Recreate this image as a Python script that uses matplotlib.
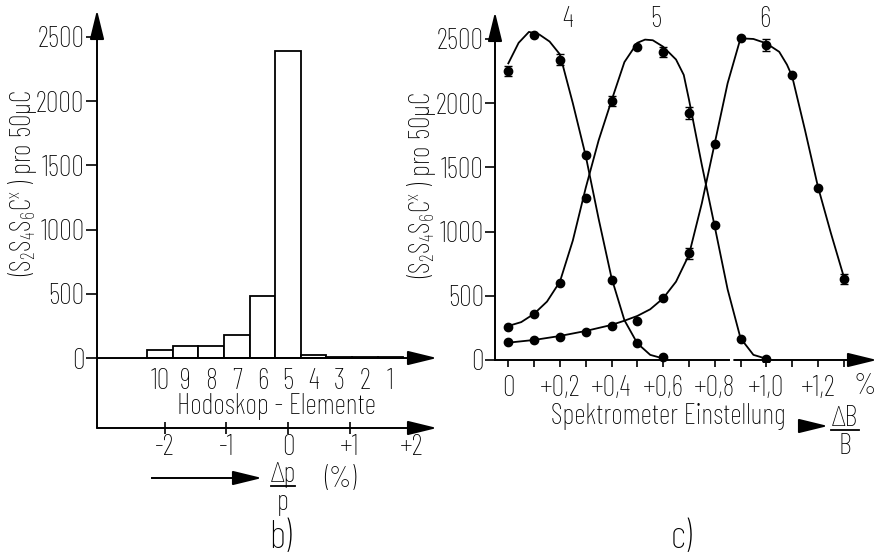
import numpy as np
import matplotlib
matplotlib.use('Agg')
from matplotlib import pyplot as plt

plt.rcParams['font.family'] = ['Barlow Condensed', 'DejaVu Sans']
plt.rcParams['font.weight'] = 'light'
plt.rcParams['mathtext.fontset'] = 'custom'
plt.rcParams['mathtext.rm'] = 'Barlow Condensed:light'
plt.rcParams['mathtext.it'] = 'Barlow Condensed:light'
plt.rcParams['mathtext.default'] = 'regular'
plt.rcParams['font.size'] = 20.5

# --- b) Hodoskop ---
elements = ['10', '9', '8', '7', '6', '5', '4', '3', '2', '1']
counts = [65, 90, 90, 180, 485, 2390, 20, 8, 8, 6]
dp_ticks = [-2, -1, 0, 1, 2]
dp_labels = ['-2', '-1', '0', '+1', '+2']
y_ticks = [0, 500, 1000, 1500, 2000, 2500]

# --- c) Spektrometer, measured points ---
pts4_x = [0, 0.1, 0.2, 0.3, 0.4, 0.5, 0.6]
pts4_y = [2250, 2530, 2340, 1600, 625, 130, 20]
err4 = [40, 0, 45, 0, 0, 0, 0]
pts5_x = [0, 0.1, 0.2, 0.3, 0.4, 0.5, 0.6, 0.7, 0.8, 0.9, 1.0]
pts5_y = [260, 355, 600, 1265, 2015, 2435, 2400, 1925, 1050, 165, 8]
err5 = [0, 0, 0, 0, 40, 0, 40, 45, 0, 0, 0]
pts6_x = [0, 0.1, 0.2, 0.3, 0.4, 0.5, 0.6, 0.7, 0.8, 0.9, 1.0, 1.1, 1.2, 1.3]
pts6_y = [138, 155, 182, 215, 267, 300, 485, 830, 1685, 2510, 2455, 2220, 1340, 630]
err6 = [0, 0, 0, 0, 0, 0, 0, 45, 0, 0, 45, 0, 0, 40]

# hand drawn curves
fit4_x = [0, 0.04, 0.08, 0.12, 0.16, 0.2, 0.25, 0.3, 0.35, 0.4, 0.45, 0.5, 0.55, 0.6]
fit4_y = [2310, 2470, 2555, 2535, 2480, 2380, 2000, 1590, 1100, 640, 310, 130, 40, 12]
fit5_x = [0, 0.05, 0.1, 0.15, 0.2, 0.25, 0.3, 0.35, 0.4, 0.45, 0.5, 0.53, 0.56,
          0.6, 0.65, 0.68, 0.7, 0.75, 0.8, 0.85, 0.9, 0.95, 1.0]
fit5_y = [265, 295, 360, 455, 610, 930, 1340, 1710, 2020, 2320, 2470, 2495, 2490,
          2440, 2340, 2220, 2030, 1520, 1040, 550, 170, 40, 10]
fit6_x = [0, 0.1, 0.2, 0.3, 0.4, 0.45, 0.5, 0.55, 0.6, 0.65, 0.7, 0.75, 0.8, 0.85,
          0.9, 0.95, 1.0, 1.05, 1.08, 1.1, 1.15, 1.2, 1.25, 1.3]
fit6_y = [135, 156, 187, 226, 273, 306, 343, 395, 480, 610, 818, 1220, 1687, 2155,
          2505, 2500, 2466, 2400, 2300, 2210, 1790, 1350, 990, 650]
curve_names = ['4', '5', '6']
curve_label_x = [0.23, 0.57, 0.995]
spek_ticks = [0, 0.2, 0.4, 0.6, 0.8, 1.0, 1.2]
spek_labels = ['0', '+0,2', '+0,4', '+0,6', '+0,8', '+1,0', '+1,2']

W, H = 887, 556
fig = plt.figure(figsize=(W / 100, H / 100), dpi=100)

def box(l, r, t, b):
    return [l / W, (H - b) / H, (r - l) / W, (b - t) / H]

def fpos(x, y):
    # pixel (from top left) -> figure fraction
    return x / W, 1 - y / H

def frac(x, y, top, bottom, half):
    fig.text(*fpos(x, y - 12), top, ha='center', va='center')
    fig.text(*fpos(x, y + 16), bottom, ha='center', va='center')
    fig.add_artist(plt.Line2D([(x - half) / W, (x + half) / W], [1 - y / H, 1 - y / H],
                              color='k', lw=1.3))

arr = dict(arrowstyle='-|>,head_length=0.9,head_width=0.22', lw=1.4, color='k',
           mutation_scale=20, shrinkA=0, shrinkB=0)
ylab = '(S$_2$S$_4$S$_6$C$^x$ ) pro 50μC'

# ---------------- b) ----------------
ax = fig.add_axes(box(97, 437, 10, 428))
ax.set_xlim(-2.46, 10.82)
ax.set_ylim(-545, 2710)
xk = np.arange(len(elements))
ax.bar(xk, counts, width=1.0, facecolor='white', edgecolor='k', lw=1.3)
for s in ax.spines.values():
    s.set_visible(False)
ax.spines['bottom'].set_position(('data', 0))
ax.set_xticks(xk)
ax.set_xticklabels(elements)
ax.tick_params(axis='x', length=0, pad=7)
ax.set_yticks(y_ticks)
ax.tick_params(axis='y', length=8, width=1.2, pad=1)
ax.annotate('', xy=(-2.46, 2710), xytext=(-2.46, -545), arrowprops=arr, annotation_clip=False)
ax.annotate('', xy=(10.82, 0), xytext=(-2.46, 0), arrowprops=arr, annotation_clip=False)

sec = ax.secondary_xaxis(0, functions=(lambda k: (k - 5) / 2.41, lambda d: d * 2.41 + 5))
sec.set_xticks(dp_ticks)
sec.set_xticklabels(dp_labels)
sec.tick_params(direction='inout', length=8, width=1.2, pad=0)
sec.spines['bottom'].set_visible(False)
ax.annotate('', xy=(10.82, -545), xytext=(-2.46, -545), arrowprops=arr, annotation_clip=False)

fig.text(*fpos(276, 407), 'Hodoskop - Elemente', ha='center', va='center')
fig.text(*fpos(23, 183), ylab, rotation=90, ha='center', va='center')
fig.add_artist(plt.Line2D([152 / W, 240 / W], [1 - 478 / H, 1 - 478 / H], color='k', lw=1.4))
ax.annotate('', xy=fpos(262, 478), xytext=fpos(238, 478),
            xycoords='figure fraction', textcoords='figure fraction', arrowprops=arr)
frac(283, 486, 'Δp', 'p', 12)
fig.text(*fpos(340, 480), '(%)', ha='center', va='center')
fig.text(*fpos(280, 538), 'b)', ha='center', va='center', fontsize=28)

# ---------------- c) ----------------
ax2 = fig.add_axes(box(495, 877, 12, 362))
ax2.set_xlim(-0.0516, 1.429)
ax2.set_ylim(-15.6, 2710)
for s in ax2.spines.values():
    s.set_visible(False)
ax2.spines['bottom'].set_position(('data', 0))

for fx, fy in [(fit4_x, fit4_y), (fit5_x, fit5_y), (fit6_x, fit6_y)]:
    ax2.plot(fx, fy, color='k', lw=1.3)
for px, py, pe in [(pts4_x, pts4_y, err4), (pts5_x, pts5_y, err5), (pts6_x, pts6_y, err6)]:
    ax2.errorbar(px, py, yerr=pe, fmt='o', color='k', ms=6, elinewidth=1.1, capsize=3)

for name, cx in zip(curve_names, curve_label_x):
    ax2.text(cx, 2650, name, ha='center', va='center')

ax2.set_yticks(y_ticks)
ax2.tick_params(axis='y', length=7, width=1.2, pad=1)
ax2.set_xticks(spek_ticks)
ax2.set_xticklabels(spek_labels)
ax2.set_xticks([0.1, 0.3, 0.5, 0.7, 0.9, 1.1, 1.3], minor=True)
ax2.tick_params(axis='x', which='both', length=5, width=1.2, pad=6)
ax2.annotate('', xy=(-0.0516, 2710), xytext=(-0.0516, 0), arrowprops=arr, annotation_clip=False)
ax2.plot([-0.0516, 0.855], [0, 0], color='k', lw=1.4, clip_on=False)
ax2.annotate('', xy=(1.429, 0), xytext=(0.875, 0), arrowprops=arr, annotation_clip=False)
ax2.text(1.38, -205, '%', ha='center', va='center')

fig.text(*fpos(422, 185), ylab, rotation=90, ha='center', va='center')
fig.text(*fpos(668, 416), 'Spektrometer Einstellung', ha='center', va='center')
ax2.annotate('', xy=fpos(828, 426), xytext=fpos(802, 426),
             xycoords='figure fraction', textcoords='figure fraction', arrowprops=arr)
frac(845, 430, 'ΔB', 'B', 14)
fig.text(*fpos(681, 538), 'c)', ha='center', va='center', fontsize=28)

fig.savefig('out.png', dpi=100)
